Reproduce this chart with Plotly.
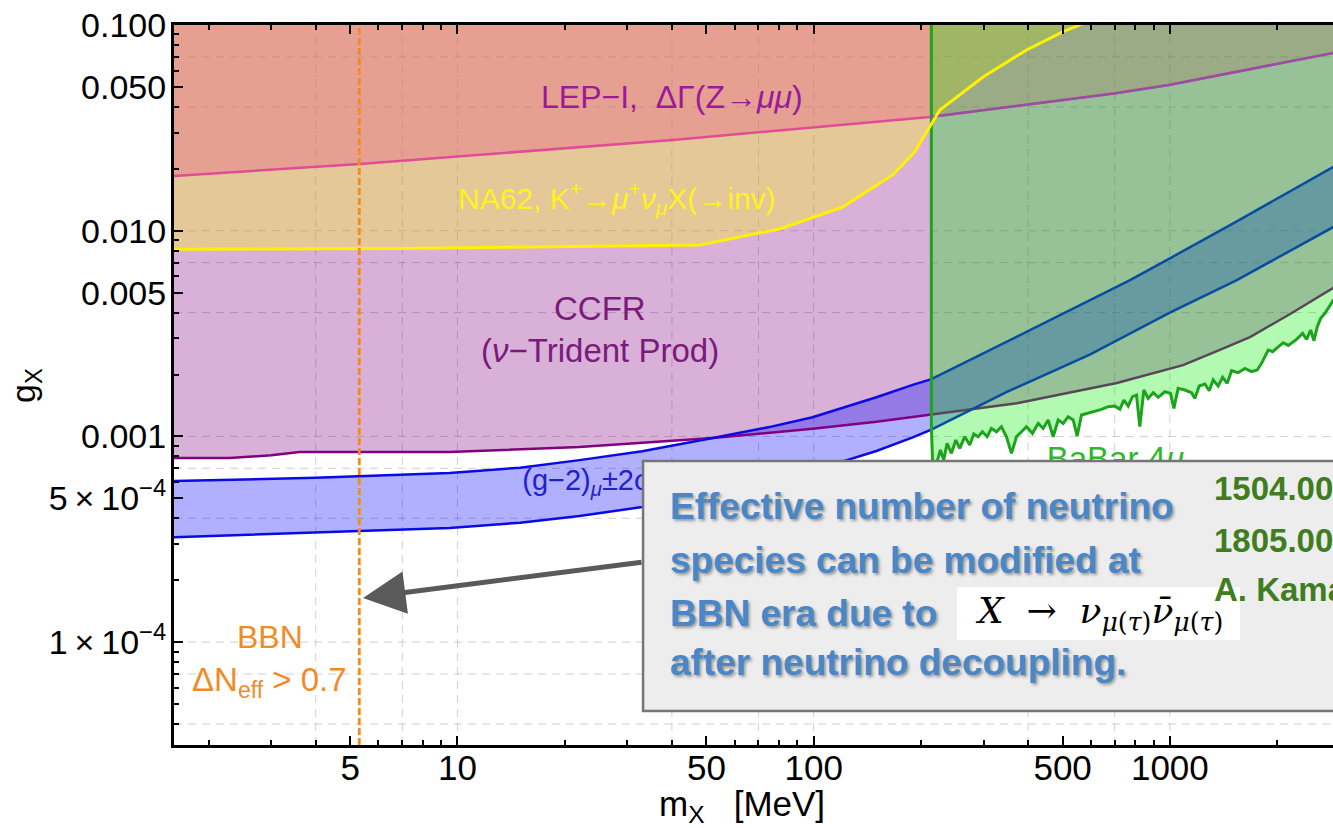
import math
import plotly.graph_objects as go

# ---------------- data ----------------
# CCFR (nu-trident) lower boundary of excluded region
ccfr_m = [1.5, 2.29, 3.0, 3.6, 9.5, 22.0, 52.1, 99.3, 150, 214, 372, 710, 1089, 1350, 1679, 2200, 2871, 3100]
ccfr_g = [0.000785, 0.000785, 0.00081, 0.00084, 0.00084, 0.000888, 0.000983, 0.00109, 0.00118, 0.00128,
          0.00145, 0.00182, 0.00222, 0.00259, 0.00304, 0.00398, 0.00526, 0.0058]

# NA62 K+ -> mu+ nu X(inv)
na62_m = [1.5, 6.87, 47.9, 80.2, 120.5, 166.7, 192, 212, 226, 299, 396, 500, 558, 700]
na62_g = [0.00813, 0.0082, 0.00852, 0.0102, 0.01303, 0.01867, 0.0241, 0.0319, 0.0386, 0.0559, 0.0756,
          0.0925, 0.1, 0.125]

# LEP-I Delta Gamma(Z -> mu mu)
lep_m = [1.5, 5.31, 40.2, 99, 174.6, 212, 396, 696, 993, 2000, 2871, 3100]
lep_g = [0.0183, 0.0211, 0.0276, 0.0316, 0.0345, 0.0357, 0.0410, 0.0465, 0.0511, 0.0647, 0.0731, 0.0750]

# (g-2)_mu +- 2 sigma band
gm2_up_m = [1.5, 4.0, 9.5, 15, 22.0, 33, 52.1, 75, 99.3, 150, 189.7, 214, 350, 596, 773, 1000, 1542, 2871, 3100]
gm2_up_g = [0.000605, 0.00063, 0.000664, 0.000705, 0.000767, 0.000848, 0.000983, 0.00111, 0.00124, 0.00155,
            0.00178, 0.0019, 0.0029, 0.0046, 0.00575, 0.00734, 0.0111, 0.0204, 0.0219]
gm2_lo_m = [1.5, 4.0, 9.5, 15, 22.0, 33, 52.1, 75, 99.3, 150, 189.7, 214, 350, 596, 1000, 1542, 2871, 3100]
gm2_lo_g = [0.000322, 0.000342, 0.000359, 0.000381, 0.00041, 0.000454, 0.00053, 0.000604, 0.00068, 0.00085,
            0.00099, 0.00108, 0.00165, 0.0025, 0.0040, 0.00575, 0.0104, 0.0112]

# BaBar 4mu lower boundary (vertical edge then jagged limit)
babar_m = [214, 214, 216,
           222.0, 226.9, 231.8, 236.9, 243.6, 250.6, 257.1, 265.6, 274.3, 281.5, 289.5, 297.8, 306.9,
           315.5, 326.0, 336.6, 347.8, 359.2, 371.0, 383.2, 395.8, 411.4, 426.8, 440.9, 455.3, 470.3,
           485.8, 501.8, 518.2, 535.2, 549.3, 564.8, 589.7, 615.7, 642.7, 671.2, 700.7, 723.7, 742.8,
           763.8, 785.5, 806.0, 823.6, 845.1, 869.2, 897.9, 927.3, 968.1, 1004, 1026, 1055, 1102, 1150,
           1176, 1209, 1254, 1290, 1323, 1367, 1406, 1449, 1490, 1556, 1624, 1696, 1759, 1809, 1849,
           1889, 1943, 2015, 2081, 2150, 2269, 2359, 2421, 2484, 2539, 2594, 2651, 2726, 2803, 2870,
           3035, 3035]
babar_g = [1.0, 0.00112, 0.0007,
           0.000754, 0.000859, 0.000768, 0.000925, 0.000827, 0.000960, 0.000875, 0.000997, 0.000908,
           0.001027, 0.000997, 0.001054, 0.000997, 0.001094, 0.001054, 0.001115, 0.000997, 0.000827,
           0.000997, 0.001054, 0.001115, 0.001035, 0.001157, 0.001094, 0.001202, 0.000997, 0.001202,
           0.001157, 0.001247, 0.001202, 0.001004, 0.001271, 0.001295, 0.001319, 0.001354, 0.001395,
           0.001405, 0.001354, 0.001503, 0.001405, 0.001560, 0.001589, 0.001115, 0.001681, 0.001531,
           0.001631, 0.001549, 0.001649, 0.001619, 0.001369, 0.001713, 0.001681, 0.001631, 0.001531,
           0.001758, 0.001798, 0.001668, 0.001880, 0.001758, 0.001937, 0.001811, 0.002087, 0.002041,
           0.002142, 0.002064, 0.002103, 0.002266, 0.002442, 0.002630, 0.002582, 0.002730, 0.002855,
           0.002771, 0.002964, 0.003170, 0.002964, 0.003291, 0.002920, 0.003415, 0.003750, 0.003966,
           0.004272, 0.004568, 0.004960, 1.0]

bbn_m = 5.3

x_tickvals = [5, 10, 50, 100, 500, 1000]
x_ticktext = ["5", "10", "50", "100", "500", "1000"]
y_tickvals = [1e-4, 5e-4, 1e-3, 5e-3, 1e-2, 5e-2, 1e-1]
y_ticktext = ["1\u2009×\u200910<sup>−4</sup>", "5\u2009×\u200910<sup>−4</sup>", "0.001", "0.005", "0.010",
              "0.050", "0.100"]
grid_x = [4, 7, 10, 40, 70, 100, 400, 700, 1000]
grid_y = [4e-5, 7e-5, 1e-4, 4e-4, 7e-4, 1e-3, 4e-3, 7e-3, 1e-2, 4e-2, 7e-2]

XMIN, XMAX = 1.6, 2871
YMIN, YMAX = 10 ** -4.5, 0.1
TOP = 1.0
FONT = "Liberation Sans, Arial, sans-serif"

fig = go.Figure()

# grid lines
gxx, gxy = [], []
for v in grid_x:
    gxx += [v, v, None]
    gxy += [YMIN, YMAX, None]
gyx, gyy = [], []
for v in grid_y:
    gyx += [XMIN, XMAX, None]
    gyy += [v, v, None]
for gx, gy in ((gxx, gxy), (gyx, gyy)):
    fig.add_trace(go.Scatter(x=gx, y=gy, mode="lines", hoverinfo="skip",
                             line=dict(color="rgba(150,150,150,0.45)", width=1, dash="8px,6px")))

# filled regions
fig.add_trace(go.Scatter(x=ccfr_m + [ccfr_m[-1], ccfr_m[0]], y=ccfr_g + [TOP, TOP], fill="toself",
                         fillcolor="rgba(128,0,128,0.31)", line=dict(width=0), mode="lines"))
fig.add_trace(go.Scatter(x=na62_m + [na62_m[-1], na62_m[0]], y=na62_g + [TOP, TOP], fill="toself",
                         fillcolor="rgba(255,255,0,0.30)", line=dict(width=0), mode="lines"))
fig.add_trace(go.Scatter(x=lep_m + [lep_m[-1], lep_m[0]], y=lep_g + [TOP, TOP], fill="toself",
                         fillcolor="rgba(231,70,135,0.30)", line=dict(width=0), mode="lines"))
fig.add_trace(go.Scatter(x=gm2_up_m + gm2_lo_m[::-1], y=gm2_up_g + gm2_lo_g[::-1], fill="toself",
                         fillcolor="rgba(0,0,255,0.31)", line=dict(width=0), mode="lines"))

# boundary lines
fig.add_trace(go.Scatter(x=ccfr_m, y=ccfr_g, mode="lines", line=dict(color="#800080", width=2.5)))
fig.add_trace(go.Scatter(x=lep_m, y=lep_g, mode="lines", line=dict(color="#E24C96", width=2.5)))
fig.add_trace(go.Scatter(x=gm2_up_m, y=gm2_up_g, mode="lines", line=dict(color="#0A0AE6", width=2.5)))
fig.add_trace(go.Scatter(x=gm2_lo_m, y=gm2_lo_g, mode="lines", line=dict(color="#0A0AE6", width=2.5)))

# BaBar region
fig.add_trace(go.Scatter(x=babar_m, y=babar_g, fill="toself", fillcolor="rgba(0,235,0,0.30)",
                         mode="lines", line=dict(color="#1CA51C", width=3)))

# LEP line where it crosses the BaBar region (appears purple there)
lep_r = [(m, g) for m, g in zip(lep_m, lep_g) if m >= 212]
fig.add_trace(go.Scatter(x=[p[0] for p in lep_r], y=[p[1] for p in lep_r], mode="lines",
                         line=dict(color="#9C4CA6", width=2.5)))

# NA62 line on top
fig.add_trace(go.Scatter(x=na62_m, y=na62_g, mode="lines", line=dict(color="#FFF200", width=3)))

# BBN line
fig.add_trace(go.Scatter(x=[bbn_m, bbn_m], y=[YMIN, YMAX], mode="lines",
                         line=dict(color="#F28A1E", width=2.8, dash="7px,3px")))

# labels partly hidden by the box (traces so the box covers them)
fig.add_trace(go.Scatter(x=[15.2], y=[0.000593], mode="text", text=["(g−2)<sub><i>μ</i></sub>±2σ"],
                         textposition="middle right",
                         textfont=dict(size=29, color="#2020CC", family=FONT)))
fig.add_trace(go.Scatter(x=[451], y=[0.000751], mode="text", text=["BaBar 4<i>μ</i>"],
                         textposition="middle right",
                         textfont=dict(size=33, color="#2DB82D", family=FONT)))

lg = math.log10
annotations = [
    dict(x=lg(39.9), y=lg(0.0447), xref="x", yref="y", text="LEP−I,  ΔΓ(Z→<i>μμ</i>)",
         font=dict(size=32, color="#9A1A9A", family=FONT), showarrow=False),
    dict(x=lg(28.0), y=lg(0.0144), xref="x", yref="y",
         text="NA62, K<sup>+</sup>→<i>μ</i><sup>+</sup><i>ν<sub>μ</sub></i>X(→inv)",
         font=dict(size=30, color="#FFF21E", family=FONT), showarrow=False),
    dict(x=lg(25.1), y=lg(0.0042), xref="x", yref="y", text="CCFR",
         font=dict(size=33, color="#7A1A7A", family=FONT), showarrow=False),
    dict(x=lg(25.1), y=lg(0.00263), xref="x", yref="y", text="(<i>ν</i>−Trident Prod)",
         font=dict(size=33, color="#7A1A7A", family=FONT), showarrow=False),
    dict(x=lg(2.97), y=lg(0.000106), xref="x", yref="y", text="BBN",
         font=dict(size=32, color="#F08C28", family=FONT), showarrow=False),
    dict(x=lg(2.97), y=lg(6.4e-5), xref="x", yref="y", text="ΔN<sub>eff</sub> &gt; 0.7",
         font=dict(size=33, color="#F08C28", family=FONT), showarrow=False),
    # axis titles
    dict(x=0.490, y=-0.085, xref="paper", yref="paper", xanchor="center", yanchor="middle",
         text="m<sub>X</sub>   [MeV]",
         font=dict(size=35, color="black", family=FONT), showarrow=False),
    dict(x=-0.1286, y=0.5, xref="paper", yref="paper", xanchor="center", yanchor="middle",
         text="g<sub>X</sub>", textangle=-90,
         font=dict(size=34, color="black", family=FONT), showarrow=False),
]

# overlay text box
blue = "#4A87C8"
shadow = "2px 2px 3px rgba(0,0,0,0.35)"
box_lines = ["Effective number of neutrino", "species can be modified at", "BBN era due to",
             "after neutrino decoupling."]
box_y = [0.3306, 0.2569, 0.1833, 0.1139]
for t, yy in zip(box_lines, box_y):
    annotations.append(dict(x=0.4262, y=yy, xref="paper", yref="paper", xanchor="left", yanchor="middle",
                            text="<b>" + t + "</b>", showarrow=False,
                            font=dict(size=37, color=blue, family=FONT, shadow=shadow)))
green_lines = ["1504.00711", "1805.00651", "A. Kamada et al."]
green_y = [0.3569, 0.2847, 0.2153]
for t, yy in zip(green_lines, green_y):
    annotations.append(dict(x=0.8956, y=yy, xref="paper", yref="paper", xanchor="left", yanchor="middle",
                            text="<b>" + t + "</b>", showarrow=False,
                            font=dict(size=33, color="#3F7D1E", family=FONT)))
annotations.append(dict(x=0.7977, y=0.1833, xref="paper", yref="paper", xanchor="center", yanchor="middle",
                        text="<i>X</i>  →  <i>ν</i><sub><i>μ</i>(<i>τ</i>)</sub><i>ν̄</i><sub><i>μ</i>(<i>τ</i>)</sub>",
                        showarrow=False, font=dict(size=36, color="black", family="DejaVu Serif, serif")))
# arrow
annotations.append(dict(x=0.1631, y=0.2042, xref="paper", yref="paper", text="", showarrow=True,
                        ax=280, ay=-36, arrowhead=2, arrowsize=1.7, arrowwidth=5, arrowcolor="#5A5A5A",
                        standoff=0))

shapes = [
    dict(type="rect", xref="paper", yref="paper", x0=0.4047, x1=1.05, y0=0.0472, y1=0.3944,
         fillcolor="#EDEDED", line=dict(color="#767676", width=2.5), layer="above"),
    dict(type="rect", xref="paper", yref="paper", x0=0.6756, x1=0.9198, y0=0.1458, y1=0.2194,
         fillcolor="white", line=dict(width=0), layer="above"),
]

minor_x = [k * 10 ** d for d in range(0, 4) for k in range(2, 10) if XMIN <= k * 10 ** d <= XMAX]
minor_y = [k * 10 ** d for d in range(-5, -1) for k in range(2, 10) if YMIN <= k * 10 ** d <= YMAX]

fig.update_layout(
    width=1333, height=828,
    margin=dict(l=174, r=0, t=25, b=83),
    paper_bgcolor="white", plot_bgcolor="white",
    showlegend=False,
    annotations=annotations, shapes=shapes,
    xaxis=dict(type="log", range=[lg(XMIN), lg(XMAX)], tickvals=x_tickvals, ticktext=x_ticktext,
               ticks="inside", ticklen=9, tickwidth=2, tickcolor="black",
               showline=True, linewidth=3, linecolor="black", mirror="ticks",
               showgrid=False, zeroline=False, ticklabelstandoff=-10,
               tickfont=dict(size=35, color="black", family=FONT),
               minor=dict(tickvals=minor_x, ticks="inside", ticklen=5, tickwidth=1.5, tickcolor="black",
                          showgrid=False)),
    yaxis=dict(type="log", range=[-4.5, -1], tickvals=y_tickvals, ticktext=y_ticktext,
               ticks="inside", ticklen=9, tickwidth=2, tickcolor="black",
               showline=True, linewidth=3, linecolor="black",
               showgrid=False, zeroline=False, ticklabelstandoff=-2,
               tickfont=dict(size=34, color="black", family=FONT),
               minor=dict(tickvals=minor_y, ticks="inside", ticklen=5, tickwidth=1.5, tickcolor="black",
                          showgrid=False)),
)

fig.write_html("out.html")
